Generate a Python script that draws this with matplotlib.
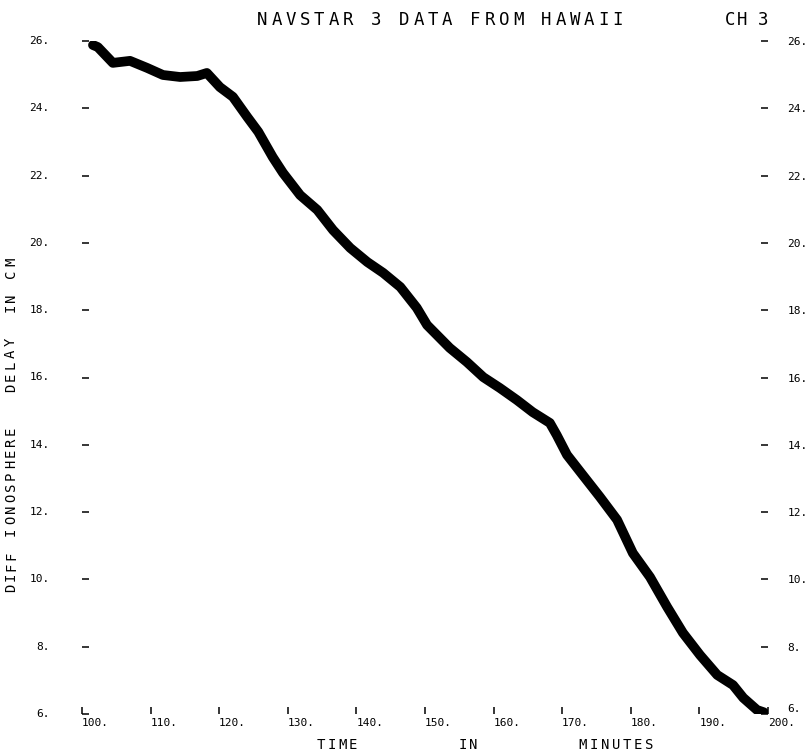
import matplotlib.pyplot as plt

# minutes, delay (cm) read along the middle of the trace
temps = [101.6, 102.3, 104.5, 107.0, 109.5, 111.8, 114.3, 116.8, 118.2, 120.1,
         122.0, 124.1, 125.7, 127.8, 129.3, 131.8, 134.3, 136.6, 139.1, 141.6,
         143.9, 146.4, 148.8, 150.3, 153.6, 156.1, 158.5, 160.9, 163.4, 165.7,
         168.2, 169.2, 170.7, 173.0, 175.5, 178.0, 180.3, 182.8, 185.3, 187.6,
         190.1, 192.6, 194.9, 196.4, 198.4, 199.4]
retard = [25.88, 25.82, 25.35, 25.41, 25.20, 24.99, 24.93, 24.96, 25.05, 24.63,
          24.34, 23.74, 23.30, 22.55, 22.08, 21.42, 20.98, 20.38, 19.85, 19.43,
          19.11, 18.69, 18.07, 17.56, 16.88, 16.46, 16.01, 15.69, 15.33, 14.97,
          14.65, 14.29, 13.70, 13.10, 12.45, 11.77, 10.78, 10.07, 9.18, 8.41,
          7.75, 7.16, 6.86, 6.48, 6.12, 6.05]

x_ticks = list(range(100, 201, 10))
y_ticks = list(range(6, 27, 2))

W, H = 810, 755
MONO = 'DejaVu Sans Mono'

fig = plt.figure(figsize=(W / 100, H / 100), dpi=100)
ax = fig.add_axes([82 / W, 1 - 714 / H, (768 - 82) / W, (714 - 41) / H])

ax.plot(temps, retard, color='black', linewidth=7,
        solid_joinstyle='round', solid_capstyle='round')

ax.set_xlim(100, 200)
ax.set_ylim(6, 26)
for s in ax.spines.values():
    s.set_visible(False)

ax.set_xticks(x_ticks)
ax.set_xticklabels([f"{v}." for v in x_ticks], fontfamily=MONO, fontsize=8)
for lab in ax.get_xticklabels():
    lab.set_horizontalalignment('left')
ax.tick_params(axis='x', direction='in', length=5, width=1.1, pad=3)

# graduations à droite avec labels, à gauche labels posés à la main
ax.set_yticks(y_ticks)
ax.set_yticklabels([f"{v}." for v in y_ticks], fontfamily=MONO, fontsize=8)
ax.tick_params(axis='y', direction='in', length=5, width=1.1, pad=14,
               right=True, labelright=True, labelleft=False)
# le "6." de droite est un peu au-dessus, comme sur l'original
ax.yaxis.get_major_ticks()[0].label2.set_verticalalignment('bottom')
for v in y_ticks:
    ax.text(-0.047, (v - 6) / 20, f"{v}.", transform=ax.transAxes,
            ha='right', va='center', fontfamily=MONO, fontsize=8)


def mot(s, cx, cy, pas, taille, vertical=False):
    # écriture de traceur : lettres espacées régulièrement
    n = len(s)
    for i, ch in enumerate(s):
        d = (i - (n - 1) / 2) * pas
        if vertical:
            fig.text(cx / W, 1 - (cy - d) / H, ch, rotation=90, ha='center',
                     va='center', fontfamily=MONO, fontsize=taille)
        else:
            fig.text((cx + d) / W, 1 - cy / H, ch, ha='center', va='center',
                     fontfamily=MONO, fontsize=taille)


mot("NAVSTAR 3 DATA FROM HAWAII", 440, 20, 14.2, 12.5)
mot("CH", 736, 20, 12, 12.5)
mot("3", 763, 20, 12, 12.5)

mot("TIME", 337, 745, 10.5, 10)
mot("IN", 468, 745, 10.5, 10)
mot("MINUTES", 616, 745, 11, 10)

mot("DIFF", 11, 572, 10.5, 10, vertical=True)
mot("IONOSPHERE", 11, 481, 11.2, 10, vertical=True)
mot("DELAY", 11, 365, 11.5, 10, vertical=True)
mot("IN", 11, 303, 10.5, 10, vertical=True)
mot("CM", 11, 268, 12, 10, vertical=True)

fig.savefig('out.png', dpi=100)
